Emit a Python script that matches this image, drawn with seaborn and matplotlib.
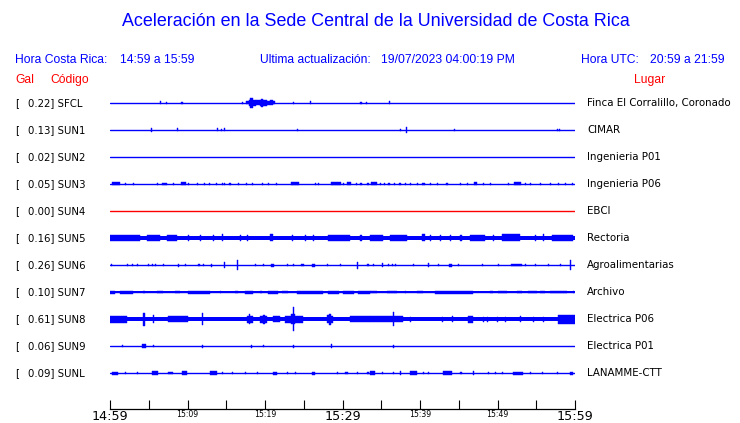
import matplotlib
matplotlib.use('Agg')
import pandas as pd
import matplotlib.pyplot as plt
import seaborn as sns

# -----------------------------
# Station data
# -----------------------------
codes = ['SFCL', 'SUN1', 'SUN2', 'SUN3', 'SUN4', 'SUN5', 'SUN6', 'SUN7', 'SUN8', 'SUN9', 'SUNL']
gal = [0.22, 0.13, 0.02, 0.05, 0.00, 0.16, 0.26, 0.10, 0.61, 0.06, 0.09]
places = ['Finca El Corralillo, Coronado', 'CIMAR', 'Ingenieria P01', 'Ingenieria P06', 'EBCI',
          'Rectoria', 'Agroalimentarias', 'Archivo', 'Electrica P06', 'Electrica P01', 'LANAMME-CTT']

# continuous noise level of each trace (half thickness, px)
noise = [0, 0, 0, 0, 0, 2.4, 0, 0.5, 2.3, 0, 0]

# bursts: (minute, amp) or (start, end, amp), amp = half height in px
sfcl = [(6.45, 1.5), (7.2, 1), (9.2, 0.7), (17.0, 1), (17.5, 17.9, 1.5), (17.9, 18.1, 3),
        (18.1, 18.4, 5), (18.4, 18.8, 3), (18.8, 19.3, 2.5), (19.3, 19.5, 3), (19.5, 19.8, 4),
        (19.8, 20.2, 3), (20.2, 20.6, 2), (20.6, 21.0, 2.5), (21.0, 21.3, 1.5), (23.6, 1.2),
        (25.8, 1.5), (32.3, 1), (33.0, 1.2), (36.0, 1.5)]
sun1 = [(5.3, 2), (8.6, 1.5), (13.8, 1.5), (14.3, 1), (14.7, 1.5), (24.1, 0.7), (37.4, 0.7),
        (38.2, 3), (44.4, 0.7), (57.7, 0.7), (57.9, 0.7)]
sun2 = []
sun3 = [(0.3, 1.3, 1.5), (1.9, 1), (3.0, 1), (6.1, 1.2), (6.7, 7.3, 1.2), (8.1, 1), (9.2, 9.8, 1.5),
        (10.1, 1), (11.2, 1), (12.1, 1.2), (12.8, 1), (13.7, 1.2), (14.4, 1), (14.7, 1),
        (15.4, 15.6, 1.2), (16.5, 1), (17.5, 1), (18.3, 1), (19.6, 19.8, 1.2), (20.4, 1), (21.4, 1),
        (23.4, 24.4, 1.5), (26.4, 1), (26.8, 1), (28.5, 29.8, 1.5), (30.1, 1), (30.6, 31.1, 1.5),
        (31.7, 1), (32.3, 1.2), (33.2, 1.2), (33.7, 34.4, 1.5), (34.8, 1), (35.3, 1.2),
        (35.9, 36.1, 1.2), (36.6, 1), (37.3, 37.5, 1.2), (38.1, 1), (38.7, 1.2), (39.6, 1),
        (40.3, 40.6, 1.2), (41.3, 1), (42.2, 1), (43.4, 43.6, 1.2), (45.1, 45.3, 1.2), (46.1, 1),
        (47.0, 47.3, 1.5), (48.1, 1.2), (49.0, 1), (51.3, 1), (52.1, 53.0, 1.5), (53.5, 1),
        (54.2, 1), (55.5, 1), (56.8, 1.2), (57.8, 1), (58.7, 1.2), (59.6, 1.2)]
sun4 = []
sun5 = [(0.0, 3.9, 3), (4.8, 6.5, 3), (7.4, 8.6, 3), (10.1, 3), (11.6, 3), (13.3, 3), (14.4, 3.5),
        (16.8, 3), (17.7, 3), (20.6, 21.0, 3.5), (23.5, 3), (25.2, 3), (26.2, 3), (28.1, 31.0, 3),
        (32.3, 3), (33.5, 35.2, 3), (36.1, 38.3, 3), (40.3, 40.6, 3.5), (41.3, 3), (42.6, 3),
        (43.9, 3), (45.2, 3), (46.4, 48.4, 3), (49.4, 3), (50.6, 52.9, 3.5), (54.8, 3),
        (55.9, 3.5), (57.0, 59.7, 3)]
sun6 = [(0.1, 1), (2.2, 1.2), (2.8, 1.2), (3.5, 1.2), (4.9, 1.2), (5.4, 1.2), (5.8, 1.2), (6.8, 1),
        (8.8, 1.5), (9.7, 1), (11.4, 1), (12.0, 1), (13.0, 1.5), (14.7, 3), (16.4, 5), (18.7, 1),
        (19.7, 1.2), (20.8, 21.2, 1.5), (22.8, 1), (23.6, 1), (24.7, 25.0, 1.2), (26.1, 26.5, 1.5),
        (28.0, 1), (29.7, 1), (31.9, 3.5), (33.2, 1), (33.9, 1), (35.1, 2), (35.9, 1.2),
        (36.4, 1), (36.8, 1), (39.1, 1), (41.0, 2), (42.3, 1), (43.7, 44.1, 1.5), (44.9, 1),
        (48.0, 1), (50.1, 1), (51.7, 53.1, 1.2), (53.5, 1), (54.8, 1), (56.5, 1), (58.0, 1.2),
        (59.3, 5)]
sun7 = [(0.0, 0.6, 1.5), (1.3, 3.0, 1.5), (4.3, 1), (6.1, 6.8, 1.2), (8.4, 9.0, 1.2),
        (10.1, 12.9, 1.5), (14.2, 1), (16.1, 16.5, 1.2), (17.4, 18.4, 1.5), (19.4, 1),
        (20.4, 21.7, 1.5), (22.2, 23.0, 1.2), (24.1, 27.5, 1.5), (28.1, 29.5, 1.5),
        (30.0, 31.5, 1.5), (32.0, 33.5, 1.5), (33.5, 34.4, 1.2), (35.7, 37.0, 1.2), (38.1, 1),
        (39.6, 40.4, 1.2), (41.9, 46.8, 1.5), (49.0, 49.4, 1.2), (50.1, 51.2, 1.2),
        (52.5, 53.1, 1.2), (53.9, 55.1, 1.2), (55.5, 56.1, 1.2), (56.8, 59.0, 1.2), (59.7, 1)]
sun8 = [(0.0, 2.2, 3.5), (4.3, 6.5), (5.5, 4), (7.5, 10.1, 3), (11.9, 6), (17.7, 17.9, 3.5),
        (17.9, 18.1, 5), (18.1, 18.4, 3.5), (19.4, 20.3, 3.5), (19.8, 4.5), (21.0, 21.9, 3),
        (22.6, 23.3, 3.5), (23.3, 23.9, 5), (23.9, 24.9, 3.5), (23.6, 12), (28.0, 28.2, 4),
        (28.2, 28.5, 5.5), (28.5, 28.8, 3.5), (31.0, 33.5, 3), (33.5, 37.8, 3), (36.5, 7),
        (38.7, 2.5), (42.8, 2.5), (44.1, 3), (46.2, 46.8, 3.5), (48.1, 2.5), (48.6, 2.5),
        (49.9, 2.5), (51.0, 2.5), (52.9, 3), (54.6, 2.5), (55.9, 2.5), (57.8, 60.0, 4.5)]
sun9 = [(1.5, 0.7), (4.1, 4.6, 2), (5.5, 0.7), (11.9, 1.5), (18.2, 1.5), (19.7, 0.7), (23.6, 1.5),
        (28.5, 2), (36.5, 1.5)]
sunl = [(0.3, 1.0, 1.5), (1.9, 1), (3.5, 1.2), (5.4, 6.2, 2), (7.5, 8.1, 1.2), (9.3, 9.9, 2),
        (12.9, 13.8, 2), (14.4, 1), (15.7, 1), (17.4, 1), (19.0, 1), (21.0, 21.5, 1.5), (22.8, 1),
        (23.9, 1), (26.1, 26.4, 1.5), (29.3, 1), (30.3, 30.7, 1.2), (31.9, 1), (33.2, 1),
        (33.5, 34.2, 2), (35.1, 1), (36.5, 1), (37.4, 2), (38.7, 39.6, 2), (40.4, 1), (41.0, 1),
        (43.0, 44.1, 2), (45.2, 1), (46.8, 2), (48.8, 1), (49.7, 1), (50.6, 1), (52.0, 53.3, 1.5),
        (54.2, 1), (55.7, 1), (57.7, 1), (59.3, 59.7, 1.5)]
events = [sfcl, sun1, sun2, sun3, sun4, sun5, sun6, sun7, sun8, sun9, sunl]

tick_minutes = list(range(0, 61, 5))
tick_labels = ['14:59', '', '15:09', '', '15:19', '', '15:29', '', '15:39', '', '15:49', '', '15:59']

# -----------------------------
# Figure
# -----------------------------
sns.set_theme(style='white')
plt.rcParams['font.family'] = ['DejaVu Sans']

W, H = 740, 423
ROW = 27.0          # px between traces
PX_MIN = 60 / 465   # minutes per px
BLUE, RED = '#0000ff', '#ff0000'

fig = plt.figure(figsize=(W / 100, H / 100), dpi=100)
ax = fig.add_axes([110 / W, (H - 409) / H, 465 / W, (409 - 90) / H])

colors = {c: (RED if g == 0 else BLUE) for c, g in zip(codes, gal)}
base = pd.DataFrame({'code': [c for c in codes for _ in range(2)],
                     'row': [i for i in range(len(codes)) for _ in range(2)],
                     'minute': [0, 60] * len(codes)})
sns.lineplot(data=base, x='minute', y='row', hue='code', palette=colors,
             linewidth=1.0, legend=False, ax=ax, sort=False)

for i, (code, ev) in enumerate(zip(codes, events)):
    c = colors[code]
    if noise[i] > 0:
        ax.fill_between([0, 60], i - noise[i] / ROW, i + noise[i] / ROW, color=c, lw=0)
    for e in ev:
        t0, t1, a = (e[0], e[0], e[1]) if len(e) == 2 else e
        w = max(t1 - t0, 1.2 * PX_MIN)
        ax.bar(t0, 2 * a / ROW, width=w, bottom=i - a / ROW, align='edge',
               color=c, edgecolor=c, linewidth=0.3)

ax.set_xlim(0, 60)
ax.set_ylim((409 - 103) / ROW, (90 - 103) / ROW)
ax.set_yticks([])
ax.set_xticks(tick_minutes)
ax.set_xticklabels(tick_labels)
ax.set_xlabel('')
ax.set_ylabel('')
for lab, txt in zip(ax.get_xticklabels(), tick_labels):
    lab.set_fontsize(9.2 if txt in ('14:59', '15:29', '15:59') else 5.6)
ax.tick_params(axis='x', direction='in', length=6.5, width=0.8, color='black', pad=1,
               labelcolor='black', bottom=True)
for s in ['top', 'left', 'right']:
    ax.spines[s].set_visible(False)
ax.spines['bottom'].set_color('black')
ax.spines['bottom'].set_linewidth(0.9)
ax.patch.set_alpha(0)


def ftext(x, y, s, **kw):
    fig.text(x / W, 1 - y / H, s, va='center', **kw)


# header
ftext(376, 22, 'Aceleración en la Sede Central de la Universidad de Costa Rica', ha='center',
      color=BLUE, fontsize=12.9, family='Liberation Sans')
hdr = dict(color=BLUE, fontsize=8.7, family='Liberation Sans')
ftext(15, 60, 'Hora Costa Rica:', **hdr)
ftext(120, 60, '14:59 a 15:59', **hdr)
ftext(260, 60, 'Ultima actualización:', **hdr)
ftext(381, 60, '19/07/2023 04:00:19 PM', **hdr)
ftext(581, 60, 'Hora UTC:', **hdr)
ftext(650, 60, '20:59 a 21:59', **hdr)
red = dict(color=RED, fontsize=8.7, family='Liberation Sans')
ftext(15, 80, 'Gal', **red)
ftext(50, 80, 'Código', **red)
ftext(634, 80, 'Lugar', **red)

# station labels
for i, (code, g, place) in enumerate(zip(codes, gal, places)):
    y = 103 + ROW * i
    ftext(15, y, '[', fontsize=7.3, color='black')
    ftext(27.5, y, f'{g:.2f}] {code}', fontsize=7.3, color='black')
    ftext(587, y, place, fontsize=7.4, color='black')

fig.savefig('out.png', dpi=100, facecolor='white')
